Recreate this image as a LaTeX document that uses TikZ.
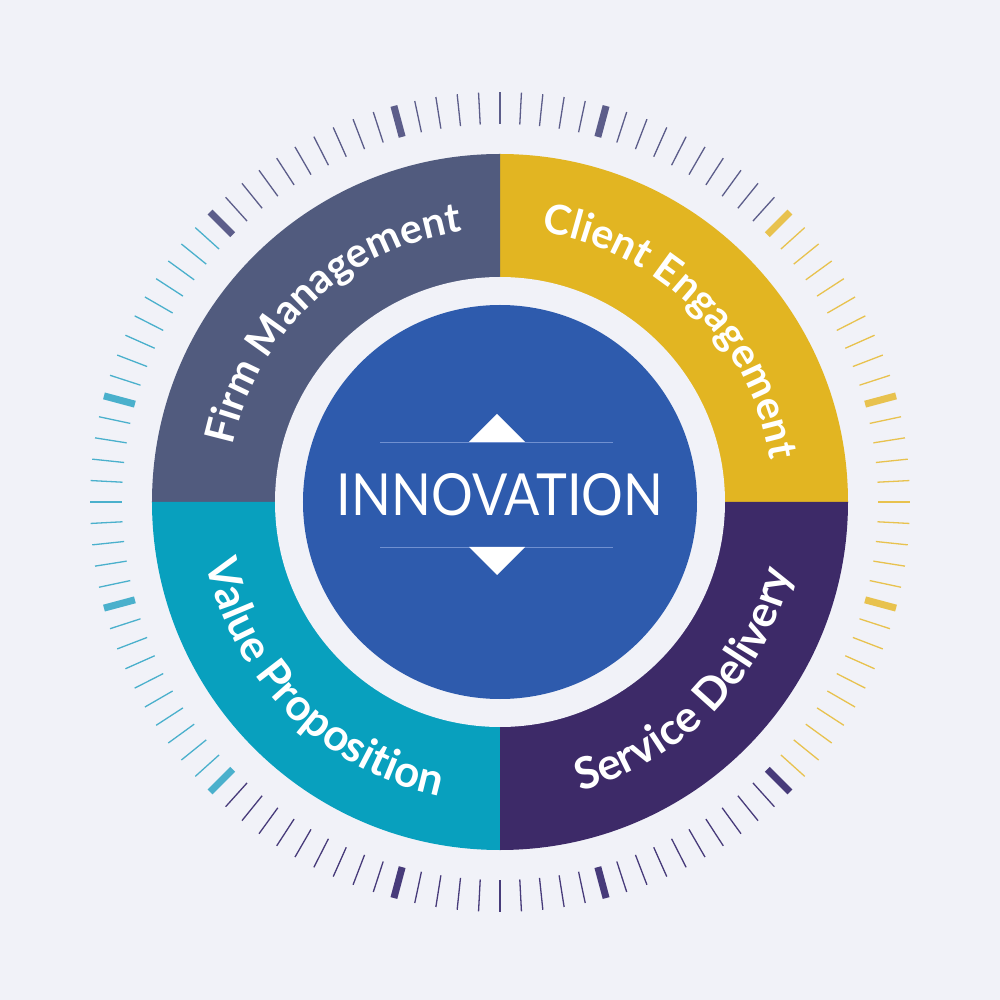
\documentclass[tikz,border=0pt]{standalone}
\usepackage{fontspec}
\setmainfont{Lato}
\newfontfamily\innofont{Lato}[FakeStretch=0.9]
\usetikzlibrary{decorations.text}
\definecolor{mybg}{HTML}{F1F2F8}
\definecolor{firmfill}{HTML}{515B7E}
\definecolor{clientfill}{HTML}{E2B522}
\definecolor{servicefill}{HTML}{3D2A68}
\definecolor{valuefill}{HTML}{08A0BE}
\definecolor{innofill}{HTML}{2E5BAD}
\definecolor{innoline}{HTML}{7090D0}
\definecolor{firmtick}{HTML}{5C5D8A}
\definecolor{clienttick}{HTML}{E8C24E}
\definecolor{servicetick}{HTML}{473B7A}
\definecolor{valuetick}{HTML}{4AB0CC}
\newcommand{\toplblfont}{\fontsize{41}{44}\selectfont\bfseries}
\newcommand{\botlblfont}{\fontsize{44}{48}\selectfont\bfseries}

\begin{document}
\begin{tikzpicture}[
    x=1pt, y=1pt,
    thintick/.style={line width=1.3pt},
    thicktick/.style={line width=7pt},
    ringlabel/.style 2 args={
      decorate,
      decoration={text along path, text align=center, text color=white,
        text={|#1|#2}}
    }
]
  \fill[mybg] (-500,-498) rectangle (500,502);
  \useasboundingbox (-500,-498) rectangle (500,502);

  % dial ticks
  \foreach \i in {0,...,119}{
    \pgfmathtruncatemacro\q{(3*\i>45)+(3*\i>135)+(3*\i>225)+(3*\i>315)}
    \pgfmathtruncatemacro\isbig{mod(\i,10)==5}
    \ifcase\q \def\tcol{clienttick}\or \def\tcol{firmtick}\or
      \def\tcol{valuetick}\or \def\tcol{servicetick}\else \def\tcol{clienttick}\fi
    \ifnum\isbig=1 \def\tw{thicktick}\else \def\tw{thintick}\fi
    \draw[\tw, draw=\tcol] (3*\i:378) -- (3*\i:410);
  }

  % four quarters
  \fill[clientfill]  (0,0) -- (0:348)   arc[start angle=0,   end angle=90,  radius=348] -- cycle;
  \fill[firmfill]    (0,0) -- (90:348)  arc[start angle=90,  end angle=180, radius=348] -- cycle;
  \fill[valuefill]   (0,0) -- (180:348) arc[start angle=180, end angle=270, radius=348] -- cycle;
  \fill[servicefill] (0,0) -- (270:348) arc[start angle=270, end angle=360, radius=348] -- cycle;
  \fill[mybg] (0,0) circle[radius=225];

  \path[ringlabel={\toplblfont}{Firm Management}]   (184:273) arc[start angle=184, end angle=82,  radius=273];
  \path[ringlabel={\toplblfont}{Client Engagement}] (96:273)  arc[start angle=96,  end angle=-6,  radius=273];
  \path[ringlabel={\botlblfont}{Value Proposition}] (174:300) arc[start angle=174, end angle=276, radius=300];
  \path[ringlabel={\botlblfont}{Service Delivery}]  (-95:300) arc[start angle=-95, end angle=7,   radius=300];

  % centre
  \node (core) [circle, fill=innofill, minimum size=394pt, inner sep=0pt] at (0,0) {};
  \node (innov) [text=white, font=\innofont\fontsize{58}{60}\selectfont] at (0,7) {INNOVATION};
  \draw[innoline, line width=0.8pt] (-120,60) -- (113,60);
  \draw[innoline, line width=0.8pt] (-120,-45) -- (113,-45);
  \fill[white] (-31,60) -- (-3,88) -- (25,60) -- cycle;
  \fill[white] (-31,-45) -- (-3,-73) -- (25,-45) -- cycle;
\end{tikzpicture}
\end{document}
